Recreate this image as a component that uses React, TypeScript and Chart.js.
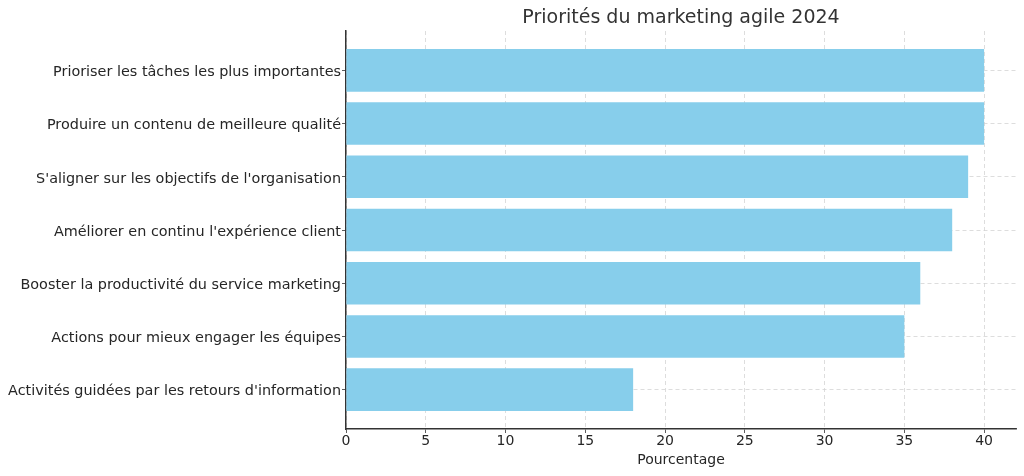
import { useEffect, useRef } from 'react'
import { Chart, registerables } from 'chart.js'

Chart.register(...registerables)

const categories = [
  'Prioriser les tâches les plus importantes',
  'Produire un contenu de meilleure qualité',
  "S'aligner sur les objectifs de l'organisation",
  "Améliorer en continu l'expérience client",
  'Booster la productivité du service marketing',
  'Actions pour mieux engager les équipes',
  "Activités guidées par les retours d'information",
]
const percentages = [40, 40, 39, 38, 36, 35, 18]

const chartTitle = 'Priorités du marketing agile 2024'
const xAxisTitle = 'Pourcentage'

const FONT = "'DejaVu Sans', sans-serif"
const TEXT = '#262626'
const GRID = '#d4d4d4'
const SPINE = '#333333'

// title is centred on the plot area, like matplotlib does
const plotTitle = {
  id: 'plotTitle',
  afterDraw(chart: Chart) {
    const { ctx, chartArea } = chart
    ctx.save()
    ctx.font = `19px ${FONT}`
    ctx.fillStyle = '#333333'
    ctx.textAlign = 'center'
    ctx.textBaseline = 'middle'
    ctx.fillText(chartTitle, (chartArea.left + chartArea.right) / 2, 18)
    ctx.restore()
  },
}

export default function App() {
  const chartRef = useRef<HTMLCanvasElement>(null)
  const chartInstance = useRef<Chart | null>(null)

  useEffect(() => {
    if (!chartRef.current) return
    if (chartInstance.current) chartInstance.current.destroy()

    chartInstance.current = new Chart(chartRef.current, {
      type: 'bar',
      data: {
        datasets: [
          {
            data: percentages.map((v, i) => ({ x: v, y: i })),
            backgroundColor: '#87CEEB',
            borderWidth: 0,
            barPercentage: 0.8,
            categoryPercentage: 1,
          },
        ],
      },
      options: {
        indexAxis: 'y',
        animation: false,
        responsive: true,
        maintainAspectRatio: false,
        layout: { padding: { top: 31, right: 8, left: 0, bottom: 0 } },
        plugins: {
          legend: { display: false },
          tooltip: { enabled: false },
        },
        scales: {
          x: {
            type: 'linear',
            min: 0,
            max: 42,
            afterFit: (s: any) => {
              s.height = 47
            },
            ticks: {
              stepSize: 5,
              includeBounds: false,
              color: TEXT,
              font: { family: FONT, size: 14 },
              padding: 0,
            },
            grid: { color: GRID, tickColor: SPINE, tickLength: 4, lineWidth: 0.8 },
            border: { color: SPINE, width: 1.5, dash: [4, 3] },
            title: {
              display: true,
              text: xAxisTitle,
              color: TEXT,
              font: { family: FONT, size: 14 },
              padding: { top: 0, bottom: 7 },
            },
          },
          y: {
            type: 'linear',
            min: -0.74,
            max: 6.74,
            reverse: true,
            offset: false,
            afterFit: (s: any) => {
              s.width = 346
            },
            ticks: {
              stepSize: 1,
              includeBounds: false,
              autoSkip: false,
              color: TEXT,
              font: { family: FONT, size: 14.4 },
              padding: 1,
              labelOffset: 2,
              callback: (v: any) => (Number.isInteger(v) ? categories[v] ?? '' : ''),
            },
            grid: { offset: false, color: GRID, tickColor: SPINE, tickLength: 4, lineWidth: 0.8 },
            border: { color: SPINE, width: 1.5, dash: [4, 3] },
          },
        },
      },
      plugins: [plotTitle],
    })

    return () => {
      if (chartInstance.current) {
        chartInstance.current.destroy()
        chartInstance.current = null
      }
    }
  }, [])

  return (
    <div style={{ position: 'absolute', left: 0, top: 0, width: 1024, height: 476, background: '#fff' }}>
      <canvas ref={chartRef}></canvas>
    </div>
  )
}
